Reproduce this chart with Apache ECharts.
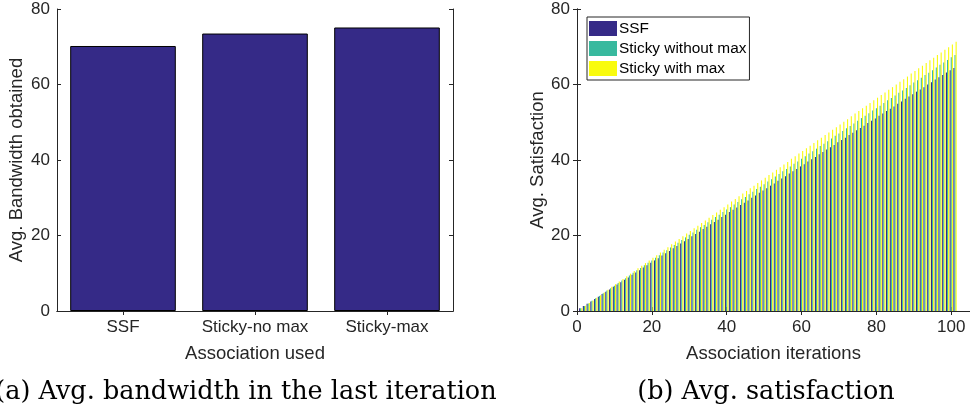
<!DOCTYPE html>
<html>
<head>
<meta charset="utf-8">
<script src="https://cdn.jsdelivr.net/npm/echarts@6/dist/echarts.min.js"></script>
<style>
  html, body { margin: 0; padding: 0; background: #fff; }
  #chart { width: 970px; height: 414px; }
</style>
</head>
<body>
<div id="chart"></div>
<script>
// (a) bandwidth obtained in the last iteration, per association scheme
const schemes = ['SSF', 'Sticky-no max', 'Sticky-max'];
const bandwidth = [70.2, 73.5, 75.1];

// (b) average satisfaction over association iterations 1..101
const seriesNames = ['SSF', 'Sticky without max', 'Sticky with max'];
const ssf = [
  0.7, 1.3, 1.9, 2.5, 3.2, 3.8, 4.5, 5.1, 5.7, 6.4,
  7.0, 7.6, 8.3, 8.9, 9.6, 10.2, 10.8, 11.5, 12.1, 12.8,
  13.4, 14.0, 14.7, 15.3, 15.9, 16.6, 17.2, 17.9, 18.5, 19.1,
  19.8, 20.4, 21.0, 21.7, 22.3, 23.0, 23.6, 24.2, 24.9, 25.5,
  26.2, 26.8, 27.4, 28.1, 28.7, 29.3, 30.0, 30.6, 31.3, 31.9,
  32.5, 33.2, 33.8, 34.5, 35.1, 35.7, 36.4, 37.0, 37.6, 38.3,
  38.9, 39.6, 40.2, 40.8, 41.5, 42.1, 42.8, 43.4, 44.0, 44.7,
  45.3, 45.9, 46.6, 47.2, 47.9, 48.5, 49.1, 49.8, 50.4, 51.0,
  51.7, 52.3, 53.0, 53.6, 54.2, 54.9, 55.5, 56.2, 56.8, 57.4,
  58.1, 58.7, 59.3, 60.0, 60.6, 61.3, 61.9, 62.5, 63.2, 63.8, 64.4
];
const stickyNoMax = [
  0.7, 1.3, 2.0, 2.7, 3.4, 4.0, 4.7, 5.4, 6.0, 6.7,
  7.4, 8.1, 8.7, 9.4, 10.1, 10.8, 11.4, 12.1, 12.8, 13.4,
  14.1, 14.8, 15.5, 16.1, 16.8, 17.5, 18.1, 18.8, 19.5, 20.2,
  20.8, 21.5, 22.2, 22.8, 23.5, 24.2, 24.9, 25.5, 26.2, 26.9,
  27.5, 28.2, 28.9, 29.6, 30.2, 30.9, 31.6, 32.3, 32.9, 33.6,
  34.3, 34.9, 35.6, 36.3, 37.0, 37.6, 38.3, 39.0, 39.6, 40.3,
  41.0, 41.7, 42.3, 43.0, 43.7, 44.3, 45.0, 45.7, 46.4, 47.0,
  47.7, 48.4, 49.0, 49.7, 50.4, 51.1, 51.7, 52.4, 53.1, 53.7,
  54.4, 55.1, 55.8, 56.4, 57.1, 57.8, 58.4, 59.1, 59.8, 60.5,
  61.1, 61.8, 62.5, 63.1, 63.8, 64.5, 65.2, 65.8, 66.5, 67.2, 67.8
];
const stickyWithMax = [
  0.7, 1.4, 2.1, 2.8, 3.5, 4.2, 4.9, 5.6, 6.4, 7.1,
  7.8, 8.5, 9.2, 9.9, 10.6, 11.3, 12.0, 12.7, 13.4, 14.1,
  14.8, 15.5, 16.2, 16.9, 17.7, 18.4, 19.1, 19.8, 20.5, 21.2,
  21.9, 22.6, 23.3, 24.0, 24.7, 25.4, 26.1, 26.8, 27.5, 28.2,
  29.0, 29.7, 30.4, 31.1, 31.8, 32.5, 33.2, 33.9, 34.6, 35.3,
  36.0, 36.7, 37.4, 38.1, 38.8, 39.5, 40.3, 41.0, 41.7, 42.4,
  43.1, 43.8, 44.5, 45.2, 45.9, 46.6, 47.3, 48.0, 48.7, 49.4,
  50.1, 50.8, 51.6, 52.3, 53.0, 53.7, 54.4, 55.1, 55.8, 56.5,
  57.2, 57.9, 58.6, 59.3, 60.0, 60.7, 61.4, 62.1, 62.9, 63.6,
  64.3, 65.0, 65.7, 66.4, 67.1, 67.8, 68.5, 69.2, 69.9, 70.6, 71.3
];
const yTicks = [0, 20, 40, 60, 80];
const xTicks = [0, 20, 40, 60, 80, 100];

const AXIS = '#262626';
const SANS = '"Liberation Sans", Arial, Helvetica, sans-serif';
const SERIF = '"DejaVu Serif", "Liberation Serif", serif';
const colors = ['#352a87', '#38b99e', '#f9fb0e'];

const chart = echarts.init(document.getElementById('chart'), null, { renderer: 'canvas' });

const pairs = arr => arr.map((v, i) => [i + 1, v]);
const yMin = yTicks[0], yMax = yTicks[yTicks.length - 1], yStep = yTicks[1] - yTicks[0];
const xMin = xTicks[0], xStep = xTicks[1] - xTicks[0];

const tickLabel = { color: AXIS, fontFamily: SANS, fontSize: 17 };
const nameStyle = { color: AXIS, fontFamily: SANS, fontSize: 18.5 };
const lineStyle = { color: AXIS, width: 1 };
const innerTick = { show: true, inside: true, length: 4, lineStyle: lineStyle };

function valueY(gridIndex, pos, name, gap, showLabels) {
  return {
    type: 'value', gridIndex, position: pos,
    min: yMin, max: yMax, interval: yStep,
    name: name || '', nameLocation: 'middle', nameGap: gap, nameTextStyle: nameStyle,
    axisLine: { show: true, lineStyle },
    axisTick: innerTick,
    axisLabel: Object.assign({ show: showLabels, margin: 7 }, tickLabel),
    splitLine: { show: false }
  };
}

const option = {
  animation: false,
  backgroundColor: '#ffffff',
  grid: [
    { left: 57, top: 9, width: 396, height: 302 },
    { left: 577, top: 9, width: 396, height: 302 }
  ],
  legend: {
    data: seriesNames,
    orient: 'vertical',
    left: 587, top: 17,
    itemWidth: 28, itemHeight: 15, itemGap: 5,
    padding: [4, 3, 4, 2],
    icon: 'rect',
    backgroundColor: '#ffffff',
    borderColor: AXIS, borderWidth: 1, borderRadius: 0,
    textStyle: { color: '#000', fontFamily: SANS, fontSize: 15.4, lineHeight: 15, padding: [0, 0, 0, -3] }
  },
  xAxis: [
    {
      type: 'category', gridIndex: 0, position: 'bottom', data: schemes,
      name: 'Association used', nameLocation: 'middle', nameGap: 33, nameTextStyle: nameStyle,
      axisLine: { show: true, lineStyle },
      axisTick: Object.assign({ alignWithLabel: true }, innerTick),
      axisLabel: Object.assign({ margin: 8, interval: 0, hideOverlap: false }, tickLabel)
    },
    {
      type: 'category', gridIndex: 0, position: 'top', data: schemes,
      axisLine: { show: true, lineStyle },
      axisTick: Object.assign({ alignWithLabel: true, interval: 0 }, innerTick),
      axisLabel: { show: false, interval: 0 }
    },
    {
      type: 'value', gridIndex: 1, position: 'bottom',
      min: xMin, max: 105, interval: xStep,
      name: 'Association iterations', nameLocation: 'middle', nameGap: 33, nameTextStyle: nameStyle,
      axisLine: { show: true, lineStyle },
      axisTick: innerTick,
      axisLabel: Object.assign({ margin: 8, showMaxLabel: false }, tickLabel),
      splitLine: { show: false }
    },
    {
      type: 'value', gridIndex: 1, position: 'top',
      min: xMin, max: 105, interval: xStep,
      axisLine: { show: true, lineStyle },
      axisTick: innerTick,
      axisLabel: { show: false },
      splitLine: { show: false }
    }
  ],
  yAxis: [
    valueY(0, 'left', 'Avg. Bandwidth obtained', 30.5, true),
    valueY(0, 'right', '', 0, false),
    valueY(1, 'left', 'Avg. Satisfaction', 29, true),
    valueY(1, 'right', '', 0, false)
  ],
  series: [
    {
      name: 'Bandwidth obtained', type: 'bar', xAxisIndex: 0, yAxisIndex: 0,
      data: bandwidth, barWidth: '80%',
      itemStyle: { color: colors[0], borderColor: '#000', borderWidth: 1 }
    },
    {
      name: seriesNames[0], type: 'bar', xAxisIndex: 2, yAxisIndex: 2,
      data: pairs(ssf), barWidth: 1.1, barGap: '0%', itemStyle: { color: colors[0] }
    },
    {
      name: seriesNames[1], type: 'bar', xAxisIndex: 2, yAxisIndex: 2,
      data: pairs(stickyNoMax), barWidth: 1.1, barGap: '0%', itemStyle: { color: colors[1] }
    },
    {
      name: seriesNames[2], type: 'bar', xAxisIndex: 2, yAxisIndex: 2,
      data: pairs(stickyWithMax), barWidth: 1.1, barGap: '0%', itemStyle: { color: colors[2] }
    }
  ],
  graphic: [
    {
      type: 'text', x: 246, y: 392,
      style: { text: '(a) Avg. bandwidth in the last iteration', fill: '#000', font: '25.5px ' + SERIF, textAlign: 'center', textVerticalAlign: 'middle' }
    },
    {
      type: 'text', x: 766, y: 392,
      style: { text: '(b) Avg. satisfaction', fill: '#000', font: '25.5px ' + SERIF, textAlign: 'center', textVerticalAlign: 'middle' }
    }
  ]
};

chart.setOption(option);
</script>
</body>
</html>
